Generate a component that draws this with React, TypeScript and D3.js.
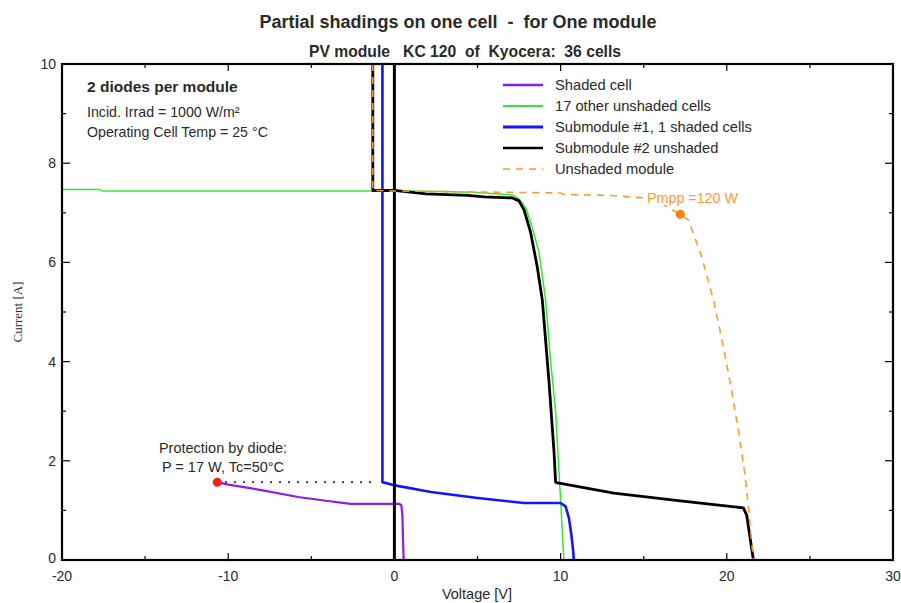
import React from "react";
import * as d3 from "d3";

// ---- Data (Voltage [V], Current [A]) ----
const shadedCellV = [-10.66, -10.0, -8.0, -5.8, -4.0, -2.65, 0.0, 0.3, 0.42, 0.48, 0.52, 0.56];
const shadedCellI = [1.57, 1.52, 1.41, 1.27, 1.19, 1.13, 1.13, 1.13, 1.1, 0.9, 0.4, 0.0];

const otherCellsV = [-20, -17.7, -17.6, -1.3, 0, 3, 5, 7.1, 7.5, 7.9, 8.3, 8.7, 9.1, 9.4, 9.7, 9.9, 10.0, 10.2];
const otherCellsI = [7.47, 7.47, 7.44, 7.44, 7.44, 7.43, 7.41, 7.36, 7.28, 7.1, 6.7, 6.2, 5.24, 4.0, 3.0, 1.8, 1.2, 0.0];

const sub1V = [-0.72, -0.72, -0.06, 2.2, 5.0, 7.8, 10.0, 10.3, 10.5, 10.65, 10.75, 10.8];
const sub1I = [10.0, 1.57, 1.51, 1.37, 1.25, 1.15, 1.15, 1.08, 0.85, 0.5, 0.2, 0.0];

const sub2V = [-1.3, -1.3, 0, 1.9, 4.4, 5.4, 7.1, 7.5, 7.8, 8.2, 8.6, 8.9, 9.3, 9.6, 9.7, 9.75, 13.2, 17.2, 21.0, 21.2, 21.6];
const sub2I = [10.0, 7.45, 7.45, 7.38, 7.35, 7.32, 7.3, 7.24, 7.06, 6.6, 5.9, 5.24, 3.6, 2.2, 1.57, 1.56, 1.35, 1.19, 1.05, 0.9, 0.0];

const moduleV = [-1.3, -1.3, 0, 5, 10, 10.2, 13, 15, 16, 17.2, 17.7, 18.5, 19.2, 19.8, 20.3, 20.7, 21.1, 21.3, 21.6];
const moduleI = [10.0, 7.45, 7.44, 7.42, 7.4, 7.37, 7.35, 7.3, 7.2, 6.97, 6.85, 6.1, 5.24, 4.3, 3.4, 2.6, 1.7, 1.07, 0.0];

const zeroLineV = [0, 0];
const zeroLineI = [0, 10];

const mppV = 17.2;
const mppI = 6.97;
const protV = -10.66;
const protI = 1.57;
const protEndV = -1.3;

const xMajorTicks = [-20, -10, 0, 10, 20, 30];
const xMinorTicks = [-15, -5, 5, 15, 25];
const yMajorTicks = [0, 2, 4, 6, 8, 10];
const yMinorTicks = [1, 3, 5, 7, 9];

const legendLabels = [
  "Shaded cell",
  "17 other unshaded cells",
  "Submodule #1, 1 shaded cells",
  "Submodule #2 unshaded",
  "Unshaded module",
];

const title = "Partial shadings on one cell  -  for One module";
const subtitle = "PV module   KC 120  of  Kyocera:  36 cells";

export default function App() {
  const W = 901, H = 603;
  const L = 62, R = 893, T = 64, B = 560;
  const x = d3.scaleLinear().domain([-20, 30]).range([L, R]);
  const y = d3.scaleLinear().domain([0, 10]).range([B, T]);

  const line = d3.line<[number, number]>().x((d) => x(d[0])).y((d) => y(d[1]));
  const toPts = (v: number[], i: number[]) => v.map((vv, k) => [vv, i[k]] as [number, number]);

  const series = [
    { v: otherCellsV, i: otherCellsI, color: "#33e833", w: 1.5, dash: undefined as string | undefined },
    { v: shadedCellV, i: shadedCellI, color: "#8a1cf0", w: 2.2, dash: undefined },
    { v: sub1V, i: sub1I, color: "#1414ff", w: 2.6, dash: undefined },
    { v: sub2V, i: sub2I, color: "#000000", w: 2.8, dash: undefined },
    { v: zeroLineV, i: zeroLineI, color: "#000000", w: 3, dash: undefined },
    { v: moduleV, i: moduleI, color: "#ff9933", w: 1.6, dash: "7,6" },
  ];

  const legendStyles = [
    { color: "#8a1cf0", w: 2.5, dash: undefined as string | undefined },
    { color: "#33e833", w: 1.8, dash: undefined },
    { color: "#1414ff", w: 2.8, dash: undefined },
    { color: "#000000", w: 2.5, dash: undefined },
    { color: "#ff9933", w: 1.6, dash: "7,6" },
  ];

  const font = "'Liberation Sans', Arial, sans-serif";
  const txt = "#2a2a2a";
  const pre = { whiteSpace: "pre" as const };

  return (
    <svg width={W} height={H} style={{ position: "absolute", left: 0, top: 0, background: "#fff" }} fontFamily={font}>
      <rect x={0} y={0} width={W} height={H} fill="#fff" />
      <text x={458} y={28} textAnchor="middle" fontSize={18} fontWeight="bold" fill={txt} style={pre}>{title}</text>
      <text x={465} y={57} textAnchor="middle" fontSize={15.7} fontWeight="bold" fill={txt} style={pre}>{subtitle}</text>

      {/* curves */}
      <g fill="none" strokeLinejoin="round">
        {series.map((s, k) => (
          <path key={k} d={line(toPts(s.v, s.i)) || ""} stroke={s.color} strokeWidth={s.w} strokeDasharray={s.dash} />
        ))}
      </g>

      {/* protection dotted line */}
      <line x1={x(protV) + 8} x2={x(protEndV)} y1={y(protI)} y2={y(protI)} stroke="#000" strokeWidth={1.6} strokeDasharray="1.6,7.4" />
      <circle cx={x(protV)} cy={y(protI)} r={4.5} fill="#ff1a1a" />
      <circle cx={x(mppV)} cy={y(mppI)} r={4.5} fill="#ff8000" />

      <text x={223} y={453} textAnchor="middle" fontSize={14.5} fill={txt}>Protection by diode:</text>
      <text x={223} y={472} textAnchor="middle" fontSize={14.5} fill={txt}>P = 17 W, Tc=50°C</text>

      <rect x={x(mppV) - 36} y={189} width={95} height={16} fill="#fff" />
      <text x={647} y={203} fontSize={14.3} fill="#ff9933">Pmpp =120 W</text>

      {/* info text */}
      <text x={87} y={92} fontSize={15.5} fontWeight="bold" fill={txt}>2 diodes per module</text>
      <text x={87} y={117} fontSize={14.2} fill={txt}>Incid. Irrad = 1000 W/m²</text>
      <text x={87} y={137} fontSize={14.2} fill={txt}>Operating Cell Temp = 25 °C</text>

      {/* legend */}
      {legendLabels.map((lab, k) => {
        const yy = 85 + k * 21;
        const st = legendStyles[k];
        return (
          <g key={lab}>
            <line x1={503} x2={543} y1={yy} y2={yy} stroke={st.color} strokeWidth={st.w} strokeDasharray={st.dash} />
            <text x={555} y={yy + 5} fontSize={14.7} fill={txt}>{lab}</text>
          </g>
        );
      })}

      {/* frame */}
      <rect x={L} y={T} width={R - L} height={B - T} fill="none" stroke="#000" strokeWidth={2.2} />

      {/* ticks */}
      <g stroke="#000" strokeWidth={1.2}>
        {xMajorTicks.slice(1, -1).map((t) => (
          <g key={"xm" + t}>
            <line x1={x(t)} x2={x(t)} y1={B} y2={B - 7} />
            <line x1={x(t)} x2={x(t)} y1={T} y2={T + 7} />
          </g>
        ))}
        {xMinorTicks.map((t) => (
          <g key={"xn" + t}>
            <line x1={x(t)} x2={x(t)} y1={B} y2={B - 4} />
            <line x1={x(t)} x2={x(t)} y1={T} y2={T + 4} />
          </g>
        ))}
        {yMajorTicks.slice(1, -1).map((t) => (
          <g key={"ym" + t}>
            <line x1={L} x2={L + 8} y1={y(t)} y2={y(t)} />
            <line x1={R} x2={R - 8} y1={y(t)} y2={y(t)} />
          </g>
        ))}
        {yMinorTicks.map((t) => (
          <g key={"yn" + t}>
            <line x1={L} x2={L + 4} y1={y(t)} y2={y(t)} />
            <line x1={R} x2={R - 4} y1={y(t)} y2={y(t)} />
          </g>
        ))}
      </g>

      {/* tick labels */}
      {xMajorTicks.map((t) => (
        <text key={"xl" + t} x={x(t)} y={B + 21} textAnchor="middle" fontSize={14} fill={txt}>{t}</text>
      ))}
      {yMajorTicks.map((t) => (
        <text key={"yl" + t} x={L - 6} y={y(t) + (t === 0 ? 3 : 5)} textAnchor="end" fontSize={14} fill={txt}>{t}</text>
      ))}

      <text x={477} y={599} textAnchor="middle" fontSize={14.5} fill={txt}>Voltage [V]</text>
      <text transform={`translate(22,312) rotate(-90)`} textAnchor="middle" fontSize={13} fontFamily="'Liberation Serif', serif" fill={txt}>Current [A]</text>
    </svg>
  );
}
